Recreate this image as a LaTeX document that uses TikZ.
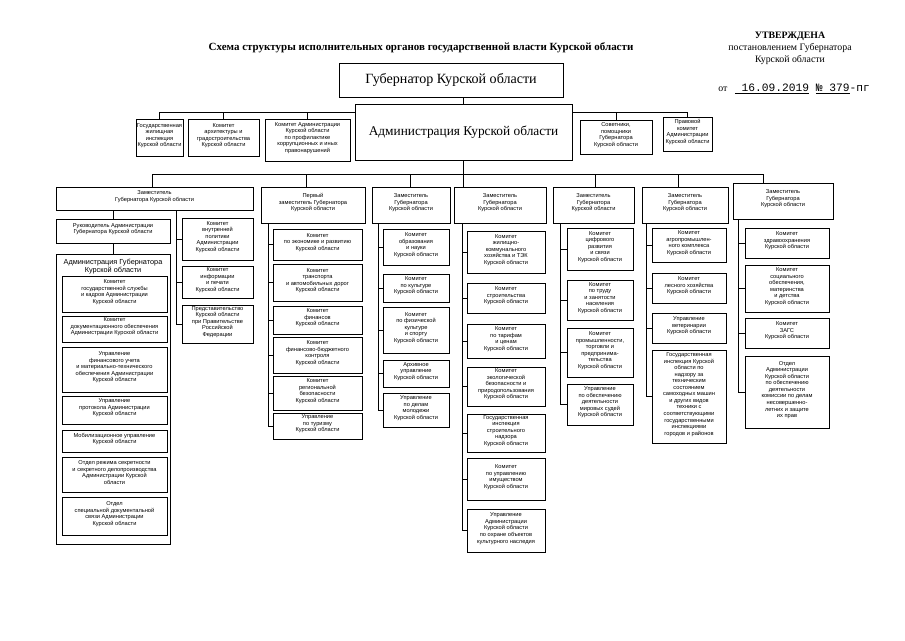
\documentclass[tikz,border=0pt]{standalone}
\usepackage{fontspec}
\setmainfont{Liberation Serif}
\setmonofont{Liberation Mono}
\newfontfamily\boxfont{Liberation Sans}
\usetikzlibrary{fit}
\newcommand{\bx}[6]{\node[box,fit={(#2,#3) (#4,#5)}] (#1) {#6};}
\newcommand{\spine}[3]{\draw (#1 |- #2.south) -- (#1 |- #3.west);}
\newcommand{\stubs}[2]{\foreach \n in {#2} \draw (\n.west) -- (\n.west -| #1);}

\begin{document}
\begin{tikzpicture}[x=0.025cm,y=-0.025cm,line width=0.6pt,
	box/.style={draw,inner sep=0pt,align=center,font={\boxfont\fontsize{4.05}{4.65}\selectfont}},
	big/.style={box,font={\fontsize{10}{12}\selectfont}}]
	\useasboundingbox (0,0) rectangle (905,640);
	\node[font={\bfseries\fontsize{7.8}{9}\selectfont}] (title) at (421,48)
	{Схема структуры исполнительных органов государственной власти Курской области};
	\node[align=center,font={\fontsize{7}{8.5}\selectfont}] (utv) at (790,48)
	{\textbf{УТВЕРЖДЕНА}\\постановлением Губернатора\\Курской области};
	\node[anchor=base west,inner sep=0pt,font={\fontsize{8}{9}\selectfont}] (nomer) at (718,91)
	{\fontsize{7}{9}\selectfont от\ \ \ \texttt{\fontsize{8}{9}\selectfont\underline{\ 16.09.2019}\ \underline{№\ 379}-пг}};
	% верх
	\bx{gov}{339}{63}{563}{97}{}
	\node[font={\fontsize{10}{12}\selectfont}] at (gov) {Губернатор Курской области};
	\bx{adm}{355}{104}{572}{160}{}
	\node[font={\fontsize{9.5}{12}\selectfont}] at (adm) {Администрация Курской области};
	\draw (gov.south -| adm.north) -- (adm.north);
	\bx{gzi}{136}{119}{183}{156}{Государственная\\жилищная\\инспекция\\Курской области}
	\bx{kag}{188}{119}{259}{156}{Комитет\\архитектуры и\\градостроительства\\Курской области}
	\bx{kpk}{265}{119}{350}{161}{Комитет Администрации\\Курской области\\по профилактике\\коррупционных и иных\\правонарушений}
	\bx{sov}{580}{120}{652}{154}{Советники,\\помощники\\Губернатора\\Курской области}
	\bx{prk}{663}{117}{712}{151}{Правовой\\комитет\\Администрации\\Курской области}
	\coordinate (b2) at (0,112);
	\draw (gzi.north) -- (gzi.north |- b2) -- (adm.west |- b2);
	\draw (kag.north) -- (kag.north |- b2);
	\draw (kpk.north) -- (kpk.north |- b2);
	\draw (adm.east |- b2) -- (prk.north |- b2) -- (prk.north);
	\draw (sov.north) -- (sov.north |- b2);
	% заместители
	\bx{d1}{56}{187}{253}{210}{Заместитель\\Губернатора Курской области}
	\bx{d2}{261}{187}{365}{223}{Первый\\заместитель Губернатора\\Курской области}
	\bx{d3}{372}{187}{450}{223}{Заместитель\\Губернатора\\Курской области}
	\bx{d4}{454}{187}{546}{223}{Заместитель\\Губернатора\\Курской области}
	\bx{d5}{553}{187}{634}{223}{Заместитель\\Губернатора\\Курской области}
	\bx{d6}{642}{187}{728}{223}{Заместитель\\Губернатора\\Курской области}
	\bx{d7}{733}{183}{833}{219}{Заместитель\\Губернатора\\Курской области}
	\foreach \i/\x in {1/152,2/306,3/410,5/595,6/678,7/763}
	{
		\coordinate (t\i) at (\x,174);
		\draw (t\i) -- (t\i |- d\i.north);
	}
	\draw (t1) -- (t7);
	\draw (adm.south) -- (adm.south |- d4.north);
	% 1
	\bx{ruk}{56}{219}{170}{243}{Руководитель Администрации\\Губернатора Курской области}
	\bx{agk}{56}{254}{170}{544}{}
	\node[anchor=north,align=center,font={\boxfont\fontsize{5.2}{6}\selectfont}] (agkt) at (agk.north)
	{Администрация Губернатора\\Курской области};
	\draw (ruk.north |- d1.south) -- (ruk.north);
	\draw (ruk.south) -- (agk.north);
	\bx{a1}{62}{276}{167}{312}{Комитет\\государственной службы\\и кадров Администрации\\Курской области}
	\bx{a2}{62}{316}{167}{342}{Комитет\\документационного обеспечения\\Администрации Курской области}
	\bx{a3}{62}{347}{167}{392}{Управление\\финансового учета\\и материально-технического\\обеспечения Администрации\\Курской области}
	\bx{a4}{62}{396}{167}{424}{Управление\\протокола Администрации\\Курской области}
	\bx{a5}{62}{430}{167}{452}{Мобилизационное управление\\Курской области}
	\bx{a6}{62}{457}{167}{492}{Отдел режима секретности\\и секретного делопроизводства\\Администрации Курской\\области}
	\bx{a7}{62}{497}{167}{535}{Отдел\\специальной документальной\\связи Администрации\\Курской области}
	\bx{kvp}{182}{218}{253}{260}{Комитет\\внутренней\\политики\\Администрации\\Курской области}
	\bx{kip}{182}{266}{253}{298}{Комитет\\информации\\и печати\\Курской области}
	\bx{prf}{182}{305}{253}{343}{Представительство\\Курской области\\при Правительстве\\Российской\\Федерации}
	\coordinate (v1) at (176,0);
	\spine{v1}{d1}{prf}
	\stubs{v1}{kvp,kip,prf}
	% 2
	\bx{c2a}{273}{229}{362}{260}{Комитет\\по экономике и развитию\\Курской области}
	\bx{c2b}{273}{264}{362}{301}{Комитет\\транспорта\\и автомобильных дорог\\Курской области}
	\bx{c2c}{273}{306}{362}{334}{Комитет\\финансов\\Курской области}
	\bx{c2d}{273}{337}{362}{373}{Комитет\\финансово-бюджетного\\контроля\\Курской области}
	\bx{c2e}{273}{376}{362}{410}{Комитет\\региональной\\безопасности\\Курской области}
	\bx{c2f}{273}{413}{362}{439}{Управление\\по туризму\\Курской области}
	\coordinate (v2) at (268,0);
	\spine{v2}{d2}{c2f}
	\stubs{v2}{c2a,c2b,c2c,c2d,c2e,c2f}
	% 3
	\bx{c3a}{383}{229}{449}{265}{Комитет\\образования\\и науки\\Курской области}
	\bx{c3b}{383}{274}{449}{302}{Комитет\\по культуре\\Курской области}
	\bx{c3c}{383}{307}{449}{353}{Комитет\\по физической\\культуре\\и спорту\\Курской области}
	\bx{c3d}{383}{360}{449}{387}{Архивное\\управление\\Курской области}
	\bx{c3e}{383}{393}{449}{427}{Управление\\по делам\\молодежи\\Курской области}
	\coordinate (v3) at (378,0);
	\spine{v3}{d3}{c3e}
	\stubs{v3}{c3a,c3b,c3c,c3d,c3e}
	% 4
	\bx{c4a}{467}{231}{545}{273}{Комитет\\жилищно-\\коммунального\\хозяйства и ТЭК\\Курской области}
	\bx{c4b}{467}{283}{545}{313}{Комитет\\строительства\\Курской области}
	\bx{c4c}{467}{324}{545}{358}{Комитет\\по тарифам\\и ценам\\Курской области}
	\bx{c4d}{467}{367}{545}{406}{Комитет\\экологической\\безопасности и\\природопользования\\Курской области}
	\bx{c4e}{467}{414}{545}{452}{Государственная\\инспекция\\строительного\\надзора\\Курской области}
	\bx{c4f}{467}{458}{545}{500}{Комитет\\по управлению\\имуществом\\Курской области}
	\bx{c4g}{467}{509}{545}{552}{Управление\\Администрации\\Курской области\\по охране объектов\\культурного наследия}
	\coordinate (v4) at (462,0);
	\spine{v4}{d4}{c4g}
	\stubs{v4}{c4a,c4b,c4c,c4d,c4e,c4f,c4g}
	% 5
	\bx{c5a}{567}{228}{633}{270}{Комитет\\цифрового\\развития\\и связи\\Курской области}
	\bx{c5b}{567}{280}{633}{320}{Комитет\\по труду\\и занятости\\населения\\Курской области}
	\bx{c5c}{567}{328}{633}{377}{Комитет\\промышленности,\\торговли и\\предпринима-\\тельства\\Курской области}
	\bx{c5d}{567}{384}{633}{425}{Управление\\по обеспечению\\деятельности\\мировых судей\\Курской области}
	\coordinate (v5) at (560,0);
	\spine{v5}{d5}{c5d}
	\stubs{v5}{c5a,c5b,c5c,c5d}
	% 6
	\bx{c6a}{652}{228}{726}{262}{Комитет\\агропромышлен-\\ного комплекса\\Курской области}
	\bx{c6b}{652}{273}{726}{303}{Комитет\\лесного хозяйства\\Курской области}
	\bx{c6c}{652}{313}{726}{343}{Управление\\ветеринарии\\Курской области}
	\bx{c6d}{652}{350}{726}{443}{Государственная\\инспекция Курской\\области по\\надзору за\\техническим\\состоянием\\самоходных машин\\и других видов\\техники с\\соответствующими\\государственными\\инспекциями\\городов и районов}
	\coordinate (v6) at (646,0);
	\spine{v6}{d6}{c6d}
	\stubs{v6}{c6a,c6b,c6c,c6d}
	% 7
	\bx{c7a}{745}{228}{829}{258}{Комитет\\здравоохранения\\Курской области}
	\bx{c7b}{745}{265}{829}{312}{Комитет\\социального\\обеспечения,\\материнства\\и детства\\Курской области}
	\bx{c7c}{745}{318}{829}{348}{Комитет\\ЗАГС\\Курской области}
	\bx{c7d}{745}{356}{829}{428}{Отдел\\Администрации\\Курской области\\по обеспечению\\деятельности\\комиссии по делам\\несовершенно-\\летних и защите\\их прав}
	\coordinate (v7) at (738,0);
	\spine{v7}{d7}{c7d}
	\stubs{v7}{c7a,c7b,c7c,c7d}
\end{tikzpicture}
\end{document}
